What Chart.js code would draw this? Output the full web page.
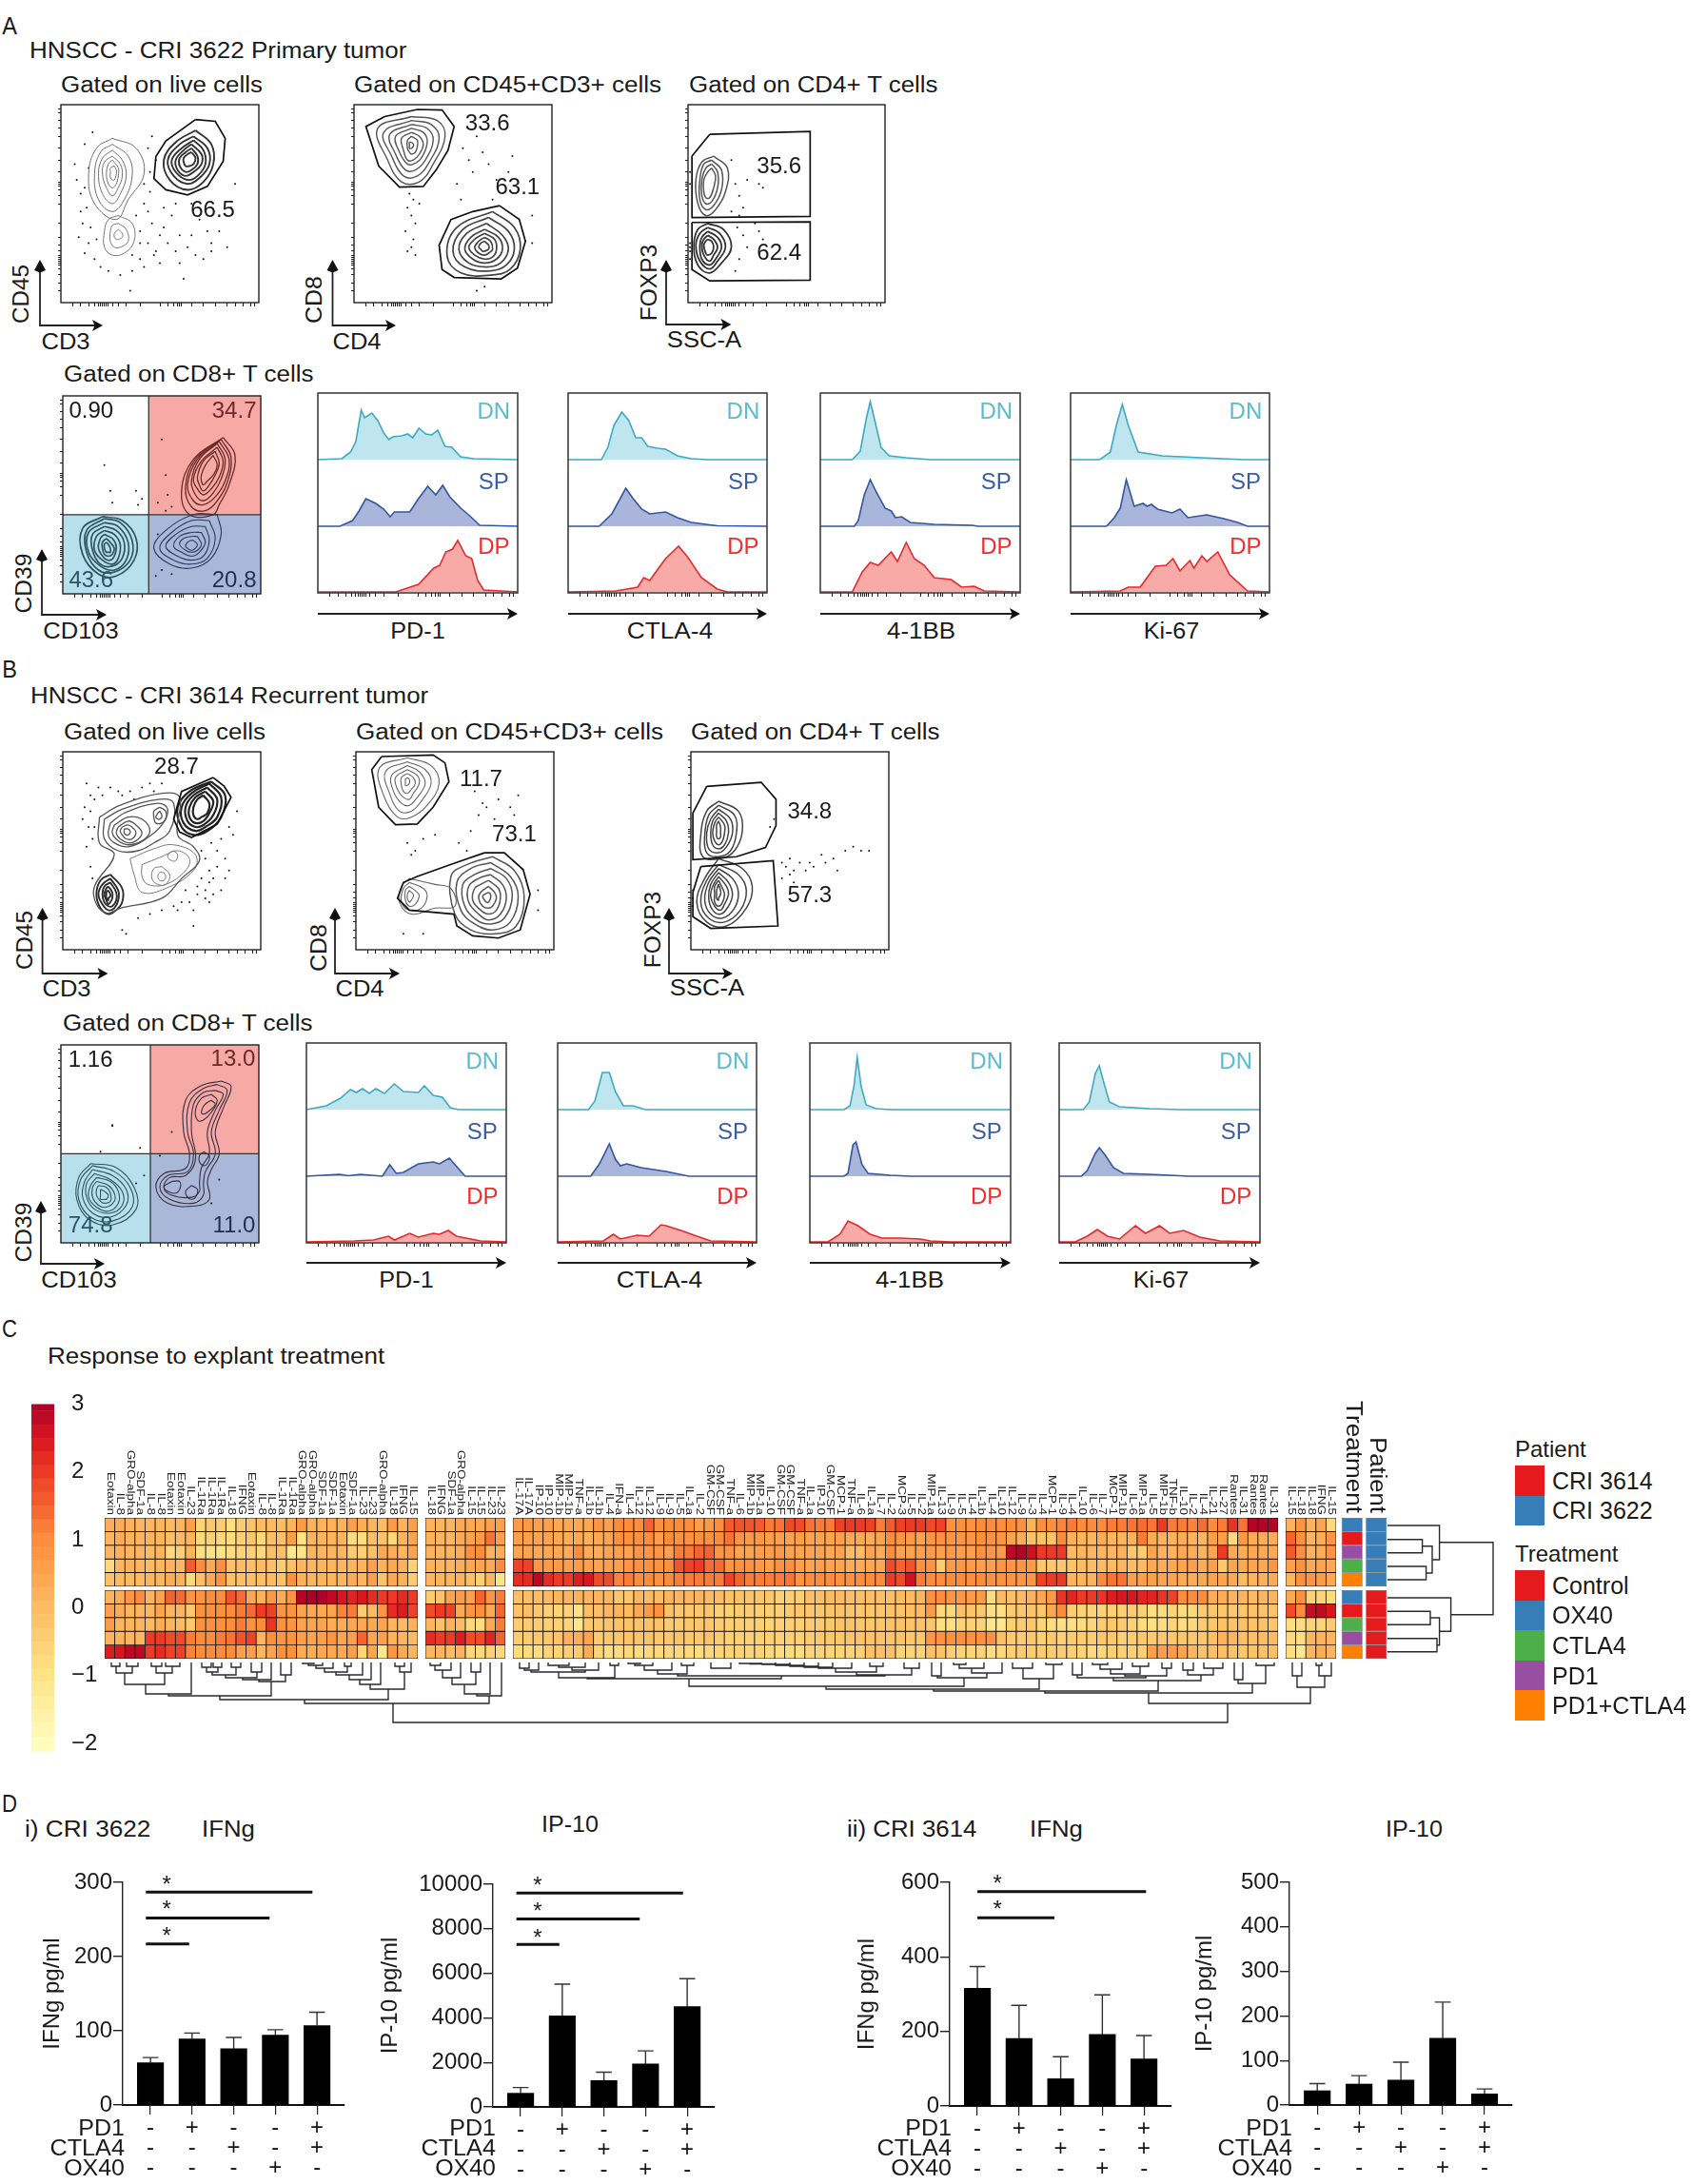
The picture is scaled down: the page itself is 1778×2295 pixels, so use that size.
<!DOCTYPE html>
<html><head><meta charset="utf-8">
<script src="https://cdn.jsdelivr.net/npm/chart.js@4"></script>
<style>html,body{margin:0;background:#fff}#p{position:relative;width:1778px;height:2295px;overflow:hidden;background:#fff}
canvas{position:absolute}.t{position:absolute;white-space:nowrap;font-family:"Liberation Sans";color:#1a1a1a;line-height:1}
svg{position:absolute;left:0;top:0}</style></head><body><div id="p"></div>
<script>
/* ---------- DATA: bar panels ---------- */
const pd1Signs=['-','+','-','-','+'], ctla4Signs=['-','-','+','-','+'], ox40Signs=['-','-','-','+','-'];
const ifngI=[57,89,76,94,107], ifngIErr=[64,97,91,101.5,125];
const ip10I=[614,4085,1186,1928,4500], ip10IErr=[870,5514,1557,2514,5757];
const ifngII=[316,181,73,192,126], ifngIIErr=[374,270,132,298,189];
const ip10II=[32,47,56,150,25], ip10IIErr=[48,66,96,231,36];
const ifngISig=[[-.11,3.89,287],[-.11,2.86,252],[-.11,.93,217]], ifngIStar=[[.39,301],[.39,267],[.39,231]];
const ip10ISig=[[-.1,3.9,9600],[-.1,2.86,8443],[-.1,.93,7300]], ip10IStar=[[.41,10070],[.41,8915],[.41,7700]];
const ifngIISig=[[0,4.05,575],[0,1.85,505]], ifngIIStar=[[.48,603],[.48,534]];
/* ---------- DATA: heatmap ---------- */
const colsB1=['Eotaxin','IL-8','GRO-alpha','SDF-1a','IL-8','IL-8','Eotaxin','Eotaxin','IL-23','IL-1Ra','IL-1Ra','IL-1Ra','IL-18','IFNG','Eotaxin','IL-8','IL-8','IL-1Ra','IL-1Ra','GRO-alpha','GRO-alpha','SDF-1a','SDF-1a','Eotaxin','SDF-1a','IL-23','IL-23','GRO-alpha','IL-18','IFNG','IL-15'];
const colsB2=['IL-18','IFNG','SDF-1a','GRO-alpha','IL-15','IL-15','IL-23','IL-23'];
const colsB3=['IL-17A','IL-17A','IP-10','IP-10','MIP-1b','MIP-1b','TNF-a','IL-1b','IL-1b','IL-4','IFN-a','IL-4','IL-12','IL-12','IL-9','IL-9','IL-5','IL-1a','IL-2','GM-CSF','GM-CSF','TNF-a','IL-6','MIP-1b','MIP-1a','IL-10','GM-CSF','GM-CSF','TNF-a','IL-1a','IP-10','GM-CSF','MCP-1','TNF-a','IL-6','IL-1a','IL-7','IL-2','MCP-3','IL-5','IL-2','MIP-1a','IL-13','IL-9','IL-5','IL-4','IL-1b','IL-4','IL-10','IL-12','IL-9','IL-3','IL-4','MCP-1','IL-9','IL-4','IL-10','IL-6','IL-7','MCP-1','MIP-1b','IL-6','MIP-1a','IL-5','MIP-1b','TNF-b','IL-10','IL-2','IL-4','IL-21','IL-27','Rantes','IL-31','Rantes','Rantes','IL-31'];
const colsB4=['IL-15','IL-18','IL-18','IFNG','IL-15'];
const heatB1=[
[.3,.3,.2,.1,.1,.1,0,.1,.6,-.6,-.3,-.4,-.9,-.4,-.2,0,0,0,.1,.7,.2,.2,.2,.2,.6,.3,.1,0,.7,.2,.6],
[.1,.3,.1,.1,.1,.1,-.1,0,.1,-.7,-.5,-.7,-.8,-.5,-.3,-.7,-.1,-.1,.6,-1,.1,.1,.1,.1,-.8,-.8,-.1,-.2,-.7,.1,.5],
[.1,.2,.1,.1,0,.1,-.7,-.5,.2,-.9,-1,-1,-.8,-.6,-.5,-.7,-.1,-.1,-1.2,-1,.1,.1,.1,.1,-.4,-.5,-.1,.4,.3,.1,.5],
[-.7,.1,.2,.1,0,.1,.2,.1,1.6,1,.4,.9,-.1,0,-.1,0,-.1,-.4,-.1,.1,.1,.1,.1,.1,.1,.2,.6,.2,.4,.2,-.5],
[-.1,0,0,0,.1,.1,.3,.2,-.7,-.1,.4,.8,-.1,-.1,-.1,-.1,0,-.2,.9,.2,.1,.1,.1,.1,.3,.1,.6,-.2,.4,.2,-.4],
[.2,.3,.8,1,.1,.5,1.5,1.4,.8,.8,1,1,1.7,1.4,.4,.2,.7,.3,.8,2.9,3,3,2.8,2.5,2.3,2.5,2.2,2,2,2.2,2],
[.6,.3,.1,.1,.1,.5,.1,.1,-.3,.9,.9,.9,1,1.2,1.4,2,1.9,.8,.8,.5,.4,.4,.5,1.1,1.2,-.4,0,.8,2.2,2.4,1.9],
[.7,.1,.1,.1,0,.3,.1,0,-.3,.9,.9,.9,1,1.2,.9,1,2.1,.9,.8,.5,.5,.5,.3,.3,.4,.4,.4,.5,.1,0,.2],
[.2,.2,.1,.1,2,2,1.8,1.8,1.2,1,1,1.2,1.3,1.7,1.9,.1,.9,.8,.8,.6,.5,.6,.8,.5,.6,1.5,.5,.6,.2,.1,0],
[2.4,2.5,2.8,2.8,2,2.2,1.9,1.9,1.1,1,1,1,1,.6,.6,.1,.5,.9,.9,.3,.3,.4,.4,.4,.6,-.6,.5,-1.1,.8,.4,.1]];
const heatB2=[[.2,.1,.1,.4,.4,.4,.6,.6],[.2,.1,.1,.4,.5,.7,1.3,.6],[.2,.1,.2,.3,.9,1,.2,.3],[.2,.1,.1,.3,.4,.5,.4,1],[.1,.1,.1,.2,-.1,-.5,.1,-1],
[-.4,-.2,.5,.7,.6,1.5,.8,1.2],[1.8,2,1.9,.4,.8,.9,.4,1.5],[.1,-.2,.2,0,-.7,-.8,.4,1.2],[2.2,2,2,2.4,1.8,1.8,2.3,1.5],[.1,.1,0,.2,-.7,-.7,-.5,-.7]];
const heatB3=[
[.7,.7,.6,.6,.4,.4,.4,.4,.8,.6,1,1,1,1.5,.9,1,1,1,.6,.7,1,1.6,1.7,1.7,1.6,1.2,1.3,1.8,1.8,1.3,1.2,1.2,1.9,2,2,1.9,1.2,1.6,1.9,2,2,1.8,1.9,.9,.9,.9,1,1,1,1,.9,.2,.9,.9,1.1,1.2,1,1,1,1.2,1.2,1.3,1.4,1.3,2,1.2,1.2,1.1,1.4,1,1.2,2.1,1.3,2.9,2.9,2.9],
[.6,.6,.5,.5,.4,.3,.4,.2,.4,.5,.9,.9,.9,1,.6,1,.9,.9,.9,.9,1,1.3,.8,.7,.7,.6,.6,.5,.6,.5,.5,.5,.6,.4,.4,.3,.5,1,.8,.7,.5,.8,.9,.8,.8,.8,.9,.9,.8,.5,.3,-.2,-.2,-.2,1,.2,.1,.1,.3,.1,.1,.2,1.2,.3,.2,.2,.3,.2,.1,.6,.6,-.7,.7,.3,.3,.3],
[.5,.5,.4,.4,.4,.3,1,.3,.3,.5,.6,.5,.8,.8,.8,.6,1.2,1.2,1.5,1.5,.8,.8,.5,.5,.6,.6,.7,.5,.5,.5,.5,.4,.5,0,0,.5,.3,1,.5,.5,.6,.7,.6,.7,.6,.6,.9,.8,.7,2.8,2.9,2.6,2,2,2,0,.1,.1,.1,.1,.2,-.3,-.4,.5,.2,.2,.4,.3,.2,.5,2,.4,.3,.4,.4,.4],
[1.9,1.9,.8,.7,.7,.6,.7,.6,.5,.6,.6,.8,.9,.9,.9,.9,1.7,1.9,2,1.4,1.4,.8,.9,.9,.7,.6,.9,.9,.6,.5,.6,.5,.5,.3,.3,.4,.4,1.8,1.5,1.7,.9,.8,-.4,.7,.7,.7,.6,.6,.8,.8,.8,.7,-.3,-.3,-.3,-.2,0,0,0,0,.1,0,0,.4,.3,.4,.5,.6,.3,.6,-.3,.5,.4,.5,.4,.8],
[2.2,2.2,2.8,2.2,2,2,2.4,2.5,1.8,1.8,1.1,1.2,1,1,.9,1,1.2,1.2,1.2,1.2,1.2,1.9,1.5,1.2,1.2,1.2,1.2,1.3,.8,1,1,1,.9,.9,1,1,1,2,1.8,2.6,1.2,1,1,1,1,1,1,.9,.9,.8,.8,.8,1.9,2,2,.1,.1,.2,1,1.3,1.3,.6,.6,.6,.5,.5,.3,.3,.4,.5,.5,.4,0,.1,.2,.3],
[-.1,-.1,0,0,.1,.1,.2,.1,.1,.1,-.3,-.3,.1,0,0,.1,.1,.1,.1,0,0,-.2,-.2,-.2,-.3,-.3,-.5,-.5,-.5,-.1,-.1,0,0,-.1,-.1,-.1,-.1,-.1,0,0,.1,.9,1,.8,.7,.7,.7,-.8,0,-.1,0,.2,.4,.7,2.1,2.3,2,2,2.1,2.4,2.5,2.5,2.3,2.3,2.1,1.9,1,1,1,.3,.3,.1,.1,0,.1,.1],
[-.2,-.1,-.3,-.5,-.6,-.6,-1,-.1,-.1,.1,.1,0,.4,.7,.9,-.2,-.3,-.3,-.3,-.3,-.5,-.5,-.4,-.4,-.5,-.5,-.5,-.4,-.3,-.3,-.3,-.2,-.2,-.2,-.3,-.3,-.3,-.2,-.2,-.1,0,.7,-.7,-.7,-.1,-.2,-.3,-.9,-.9,-.4,-.3,-.2,-.3,.4,1,-.5,-.6,-.6,-.6,-.5,-.5,-.4,-.5,-.9,-.8,-.6,-.8,-.7,-.4,-.3,-.3,-.3,-.3,-.2,-.2,-.2],
[-.4,-.4,-.4,-.5,-.5,-.6,-1.1,-.3,-.3,-.2,-.2,-.2,-.2,-.2,-.2,-.4,-.4,-.3,-.3,-.3,-.4,-.5,-.5,-.5,-.5,-.6,-.5,-.5,-.5,-.4,-.4,-.3,-.2,-.2,-.3,-.3,-.3,-.2,-.2,-.2,-.2,-.3,-.9,-.9,-.6,-.5,-.6,-1.1,-1.1,-.5,-.4,-.3,-.6,-.8,-.9,-.9,-.8,-.6,-.4,-.3,-.4,-.5,-.8,-.9,-.8,-.6,-.8,-.7,-.4,-.3,-.2,-.2,-.2,-.2,-.2,-.3],
[-.4,-.4,-.3,-.3,-.2,.2,.3,.5,-.4,-.3,-.3,-.2,-.2,-.2,-.3,-.3,-.2,-.3,-.3,-.2,-.4,-.5,-.5,-.5,-.5,-.5,-.5,-.5,-.5,-.4,-.3,-.3,-.3,-.2,-.2,-.2,-.2,-.2,-.2,-.3,-.3,.8,.9,.9,.9,.9,.9,.9,-.1,-.4,-.4,-.3,-.5,-.3,-.5,-.4,-.4,-.4,-.3,-.3,-.5,-.4,-.3,-.4,-.3,-.3,-.3,-.3,-.3,-.1,.2,.1,-.1,-.1,0,0],
[-.8,-.8,-.8,-.6,-.6,-.5,-.4,.3,-.6,-.8,-.8,-.7,-.8,-.7,-.7,-.7,-.7,-.7,-.8,-.7,-.6,-.6,-.6,-.6,-.6,-.7,-.8,-.8,-.8,-.6,-.6,-.6,-.6,-.6,-.5,-.1,-.1,-.1,-.6,-.6,-.6,-.1,-.2,-.5,-.6,-.6,-.6,-.8,-.7,-.5,-.4,-.4,-.4,-.4,-.4,-.5,-.6,-.7,-.7,-.5,-.5,-.5,-.5,.6,.6,.7,.5,.1,-.2,-.1,-.1,-.2,-.3,-.2,-.1,-.1]];
const heatB4=[[.2,.8,.2,.5,-.7],[1.5,.9,.1,.3,.8],[1.6,.9,.2,.3,.8],[.6,.9,.4,.5,.4],[.1,.9,.8,.7,.4],[.4,.9,-.5,-.6,-.8],[1.8,1,2.7,2.8,2.5],[-.9,-.8,-.6,-.6,-.4],[-.7,-.8,.1,.2,.1],[-.9,-1.2,.1,.3,.1]];
const rowEdges=[[0,1],[1,2],[2,3],[3,4],[4,5],[5.28,6.28],[6.28,7.28],[7.28,8.28],[8.28,9.28],[9.28,10.28]];
const heatStops=[[-2.12,'#ffffc4'],[-1,'#fee487'],[0,'#fdbb63'],[1,'#fd8c3c'],[2,'#ec3a26'],[2.5,'#d7161f'],[3,'#ac0028']];
const cbEdges=[-2.12,-1.9,-1.7,-1.5,-1.3,-1.1,-.9,-.7,-.5,-.3,-.1,.1,.3,.5,.7,.9,1.1,1.3,1.5,1.7,1.9,2.1,2.3,2.5,2.7,2.9,3];
const cbTicks=[3,2,1,0,-1,-2];
const treatColors={Control:'#e41a1c',OX40:'#377eb8',CTLA4:'#4daf4a',PD1:'#984ea3','PD1+CTLA4':'#ff7f00'};
const patientColors={'CRI 3614':'#e41a1c','CRI 3622':'#377eb8'};
const rowTreatment=['OX40','Control','PD1','CTLA4','PD1+CTLA4','OX40','Control','CTLA4','PD1','PD1+CTLA4'];
const rowPatient=['CRI 3622','CRI 3622','CRI 3622','CRI 3622','CRI 3622','CRI 3614','CRI 3614','CRI 3614','CRI 3614','CRI 3614'];
const colDendro=[[117,2,126,2,6],[133,2,145,2,6],[122,6,139,6,13],[159,2,170,2,6],[174,2,189,2,6],[164,6,181,6,13],[131,13,173,13,25],[153,25,201,2,35],[212,2,222,2,7],[224,2,233,2,7],[217,7,229,7,12],[243,2,253,2,7],[223,12,248,7,15],[264,2,275,2,12],[237,15,270,12,18],[295,2,306,2,15],[255,18,285,2,20],[272,20,300,15,22],[177,35,285,22,37],
[318,2,330,2,3],[324,3,339,2,5],[332,5,350,2,8],[362,2,369,2,6],[341,8,365,6,12],[353,12,381,2,15],[367,15,390,2,20],[378,20,400,2,25],[415,2,425,2,6],[420,6,432,2,12],[389,25,425,12,30],[231,37,408,30,41],
[452,2,463,2,5],[457,5,474,2,10],[465,10,484,2,18],[495,2,505,2,12],[475,18,500,12,25],[488,25,515,2,35],[501,35,527,2,37],[320,41,514,37,45],
[546,2,556,2,8],[551,8,566,2,10],[576,2,598,2,5],[587,5,615,2,7],[601,7,629,2,10],[558,10,615,10,12],[587,12,646,5,18],[641,2,650,2,5],[660,2,673,2,3],[667,3,686,2,5],[677,5,706,2,10],[716,2,729,2,5],[747,2,768,2,8],[691,10,722,5,14],[777,2,800,2,3],[788,3,815,2,3.5],[801,3.5,830,2,4],[815,4,845,2,5],[830,5,860,2,6],[845,6,875,2,7],[860,7,895,2,8],[914,2,928,2,6],[950,2,966,2,8],[878,8,921,6,12],[900,12,958,8,15],[712,14,930,15,16],[617,18,821,16,19],
[979,2,989,2,16],[1002,2,1015,2,4],[1008,4,1034,2,8],[1021,8,1053,2,13],[985,16,1037,13,18],[724,19,1013,18,27],[1064,2,1085,2,8],[1099,2,1116,2,4],[1075,8,1107,4,19],[868,27,1092,19,30],
[1127,2,1137,2,15],[1148,2,1164,2,4],[1156,4,1179,2,9],[1190,2,1207,2,6],[1167,9,1198,6,14],[1221,2,1231,2,8],[1182,14,1226,8,16],[1132,15,1204,16,18],[1243,2,1254,2,10],[1265,2,1285,2,8],[1248,10,1275,8,15],[1170,18,1262,15,21],[981,30,1217,21,32],
[1297,2,1306,2,20],[1320,2,1339,2,5],[1301,20,1330,5,24],[1098,32,1316,24,34],
[1358,2,1368,2,16],[1383,2,1389,2,5],[1386,5,1399,2,16],[1363,16,1392,16,28],[1207,34,1377,28,45],[413,45,1290,45,65]];
const rowDendro=[[22.7,0,36.7,0,36.6],[51,0,65,0,40.6],[29.7,36.6,58,40.6,47],[8,0,44,47,54.6],[98.3,0,112.3,0,45],[126.7,0,140.7,0,52],[105,45,133.7,52,54.6],[84,0,119.3,54.6,66.6],[25.7,54.6,101.7,66.6,111]];
/* ---------- DATA: histograms (flat x,height lists; one list per DN / SP / DP) ---------- */
const hAPD1=[[12,1,16.4,8,19,19,21.7,52,23.4,44,27,49,30,41,33,28,35.5,21,37.5,24,42,25,45,27,47.5,23,50.6,33,54,27,57,26,60,31,63.6,14,67,13,71.5,3,77.9,1],
[11,0,17.4,6,20.6,16,24,29,29,24,33,18,36.2,10,38.3,15,46,15,50,28,55,42,59,33,62.5,43,66,31,71.5,19,76,11,81,1],
[39,0,50.4,8,58,25,61,28,64,42,67.4,45,70,54,74,38,77,35,80,12,83,2]];
const hACTLA=[[16.7,0,20,13,23,36,27,50,30.5,41,34,23,37,23,40,14,45,12,49,11,55,4,62,1,70,0],
[15.6,0,22,13,29,40,32.7,29,37,18,41,13,49,15,55,9,62,4,75,.5],
[24,1,35,5,38,15,41,12,45.5,25,49,35,55.5,48,60,37,67,15,75,3,80,0]];
const hA41BB=[[16,0,20,9,23,43,25,61,27.5,39,30.4,13,34.5,4,43,2,55,0],
[17,0,19,6,22,33,25,49,28,36,32.4,19,35.5,16,37.6,9,40.7,10,45,4,57,2,76,1,79,0],
[16,0,21,21,25,31,29,28,35.5,42,38.6,32,43,52,47,35,52,28,57,15,65.5,13,70.7,5,77,6,82,1]];
const hAKi67=[[14.7,0,20,8,23,36,26,58,29,36,34,8,46,4,66,2,87,0],
[18,0,22,9,25,19,28,49,32,21,36.4,24,38.5,21,40.6,23,43.7,18,51,14,55,18,59,9,68.5,12,77,8,84,4,89,0],
[25,1,29,5,35,5,42.6,27,48,28,51.5,35,55,22,60,33,62,25,66,38,68.5,32,74,42,80,18,89,1]];
const hBPD1=[[10,4,17,12,22,21,25,18,28,22,31.5,17,34.7,22,39,17,44,27,48.5,19,56,18,59,25,63.4,15,68,13,72,2,76,0],
[8,1,16.6,2,21,.5,27,2,38,0,41.7,12,45,3,48.5,4,56,13,63.4,15,66.6,13,71.5,19,79.4,0],
[24,1,33.6,2,41,6,44,2,51.7,9,56,5,63.4,9,66.6,8,71,12,75,6,87,1]];
const hBCTLA=[[15.5,0,18.7,9,22.5,39,26,39,29,19,33,4,38,4,44,0],
[16.6,0,21,13,26,34,29,18,31.5,11,34.7,13,42,9,54.5,5,66,0],
[23,1,28,8,31.5,3,40,7,46,6,52,18,54.5,17,62,12,70,6,77,1]];
const hB41BB=[[17,0,20,4,22,25,23.6,55,25.5,25,28,5,33,1,40,0],
[17,0,19,3,21.5,33,23,36,26,12,29,3,40,1,50,0],
[9,0,15,8,19,22,24,17,30,8,36,4,45,4,55,3,60,1,70,0]];
const hBKi67=[[12,0,15,8,18,38,20,46,22,30,25,8,30,3,45,1,60,0],
[11,0,14,6,18,24,20,30,23,22,27,9,32,3,45,2,55,1,65,0],
[8,0,14,6,19,13,24,6,30,3,38,17,43,9,50,17,55,9,62,12,70,5,80,1]];
const histBases=[140,70,1], histNames=['DN','SP','DP'];
/* ---------- DATA: flow plots (axis percent; contour lists x,y,x,y…) ---------- */
const flowTicks=[6,10,14,17,19,20,21,22,23,24,26,29,33,40,50,54,57,59,60,61,66,72,78,84,88,92,96,98];
const a1Gate=[[68,92.5,78,91.6,83,83,82,71.4,74,58.7,64,54.4,53,57,47,62.7,48,73.8,53,81.7]];
const a1Right=[[68,87,76,80,77,70,72,61,64,57,55,62,52,72,58,81],[67,84,74,78,75,70,70,63,64,60,57,64,54,72,60,80],[67,82,72,77,73,70,69,64,64,62,58,66,56,72,61,78],[66,80,71,75,71,70,67,66,63,64,59,67,58,72,62,77],[66,78,69,74,69,70,66,67,63,66,60,69,60,73,63,76],[66,76,68,73,67,70,65,69,63,69,62,71,62,73,64,75]];
const a1Left=[[26,83,38,78,42,65,34,52,28,42,17,50,14,65,18,78],[26,80,34,74,36,64,32,52,26,46,19,52,17,65,20,76],[26,77,31,72,33,64,30,55,26,50,21,55,19,65,21,73],[26,74,30,70,31,64,29,58,26,54,23,58,21,65,22,71],[26,72,29,68,29,64,28,60,26,58,24,60,23,65,24,70],[27,69,28,67,28,65,27,62,26,62,25,63,25,66,25,68]];
const a1Low=[[29,44,36,40,37,31,32,25,26,24,22,28,22,36,24,42],[29,40,33,37,34,31,30,28,27,28,25,31,25,36,26,39],[29,37,31,35,31,33,29,32,28,32,27,33,27,35,28,36]];
const a1Dots=[8,62,10,55,7,70,13,48,11,40,9,33,14,30,12,25,17,22,20,18,38,44,42,50,45,56,40,36,44,30,48,26,52,38,56,44,60,34,64,28,70,42,76,30,80,36,84,28,72,22,60,20,50,20,42,18,36,16,30,14,24,16,12,80,16,86,44,78,48,72,46,84,88,60,86,48,66,50,58,50,52,48,14,68,62,12,35,6,10,46,15,38,18,32,12,58,40,30,46,40,50,34,54,30,58,26,66,34,74,36,68,24,76,26,44,46,42,60,45,66,36,24,40,22,47,24];
const a2GateA=[[15.5,94,32,97.6,44.5,97.3,50.6,89,47.5,77,41.5,67,35,58.7,23,58.4,12.5,69,6,89]];
const a2GateB=[[73.5,49,83.5,42,86.6,31,82.6,17.5,74.4,12,50.6,12.7,44.5,16.7,43,29,49,42,60,46]];
const a2Top=[[29,94,42,92,46,84,40,70,33,61,24,61,17,72,12,88],[29,92,39,90,43,83,38,71,32,64,25,64,19,74,15,86],[29,90,37,88,40,82,36,72,31,67,26,67,21,75,18,85],[29,88,35,86,37,81,34,73,30,70,27,70,23,76,21,84],[29,86,33,84,35,80,33,75,30,72,27,72,25,77,24,83],[29,84,32,82,32,79,31,76,29,75,28,76,27,78,27,82],[29,81,30,80,30,79,29,78,28,78,28,79,28,80,28,81]];
const a2Low=[[70,46,81,38,84,27,79,17,70,14,54,15,47,24,52,38],[68,43,78,36,81,27,77,19,69,16,56,18,50,26,55,37],[67,40,75,34,78,27,74,20,67,18,58,20,53,27,57,35],[66,37,73,33,75,27,72,22,66,20,60,22,56,27,59,33],[66,35,71,32,72,27,70,23,66,22,61,24,58,28,61,32],[66,33,69,31,70,27,68,25,66,24,63,25,61,28,63,31],[66,31,68,29,68,27,66,26,65,26,64,27,63,28,64,30]];
const a2Dots=[28,55,30,52,27,48,29,44,31,40,26,36,30,32,29,28,27,26,31,24,33,50,55,78,58,72,62,84,65,76,60,66,68,70,72,62,78,66,80,74,52,60,54,52,70,52,90,44,62,6,66,8,90,30];
const a3GateA=[[11,85,62,86.5,62,43.6,2,43,2,74]];
const a3GateB=[[2,40.5,62,40.8,62,11.4,11,11,2,16.7]];
const a3Up=[[13,74,20,68,19,56,14,47,9,44,5,50,4,62,7,71],[12,72,17,67,17,57,13,49,9,47,6,52,6,62,8,70],[12,70,15,66,15,58,12,51,9,50,7,54,7,62,9,68],[12,68,14,64,13,58,11,53,9,53,8,56,8,62,10,66]];
const a3Low=[[10,40,18,37,22,28,17,20,11,15,5,19,3,29,5,37],[10,38,16,35,19,28,15,21,11,17,6,21,4,29,6,35],[10,36,15,33,17,28,14,22,11,19,7,22,6,29,7,33],[10,34,13,32,15,28,13,24,11,21,8,24,7,29,8,32],[10,32,12,31,13,28,12,25,10,24,9,25,8,29,9,31]];
const a3Dots=[24,60,26,54,28,48,22,72,25,38,28,34,30,28,26,22,24,16,34,40,36,36,38,32,30,62,36,60,38,58,1,30,1,28,1,26,1,22,1,60,1,66,22,46,26,44];
const a4SplitX=43.4,a4SplitY=40;
const a4TR=[[81,79,87,70,84,55,79,45,76,40,64,40,60,52,66,68],[80,78,85,69,83,56,78,47,72,42,65,44,62,54,67,68],[79,77,84,68,82,57,77,49,71,45,66,47,63,55,68,68],[78,76,82,68,80,58,76,51,71,47,67,50,65,57,69,68],[78,74,81,67,79,59,75,53,71,50,68,53,66,58,70,67],[77,72,79,66,77,60,74,55,71,52,69,55,68,59,71,67],[76,70,78,65,76,60,73,57,71,55,70,57,70,60,72,65]];
const a4BR=[[78,40,80,30,75,18,65,13,54,15,46,23,52,32,66,40],[74,37,77,28,73,18,65,15,56,17,49,23,55,31,65,37],[72,34,74,27,71,19,65,17,58,19,52,24,57,30,65,34],[70,31,72,26,69,21,65,19,60,21,56,24,59,29,65,31],[68,29,70,25,68,22,65,21,62,22,59,25,61,28,65,29],[66,27,68,25,67,23,65,22,63,23,62,24,63,26,65,27]];
const a4BL=[[20,39,30,37,37,28,36,17,27,9,18,10,10,20,10,33],[21,38,29,36,35,27,34,17,26,11,18,12,12,21,12,32],[21,36,28,34,33,26,32,17,26,12,19,14,13,21,13,31],[21,34,27,32,31,26,30,18,25,14,19,15,15,22,15,30],[21,32,26,30,29,25,28,18,25,15,20,17,16,22,17,29],[21,30,25,28,27,24,26,19,24,17,21,18,18,23,19,28],[22,28,24,26,26,23,25,20,23,19,21,20,20,23,20,26],[22,26,23,25,24,23,24,21,23,21,22,21,21,23,21,25]];
const a4Dots=[21,65,24,52,25,46,37,52,40,48,38,45,50,78,52,60,48,46,52,42,55,44,53,50,50,12,55,10,47,9,48,30];
const b1Gate=[[76,87,81.5,82.6,85,77,78,63.5,65,56.7,59,59.5,56,66,60,80]];
const b1Right=[[75,85,82,78,80,67,73,60,66,58,60,62,58,72,64,80],[74,84,80,77,78,67,72,62,67,60,61,64,60,72,65,79],[73,82,78,76,76,68,71,63,67,62,63,65,62,72,66,78],[72,80,76,75,74,69,71,65,67,64,64,67,64,72,67,77],[71,78,74,74,73,69,70,67,68,66,66,68,66,72,68,76]];
const b1Mid=[[18.5,67,29,73,50,79,59,77,58,58,66,52,69,45,60,36,50,26,29,21,22.5,18.5,17,23,16,32,26,48,18.5,54],[21,66,30,71,49,76,56,74,54,60,46,54,38,50,28,50,21,56],[24,64,31,69,48,74,53,71,50,63,42,56,33,52,26,54,23,58],[26,63,33,67,40,66,44,60,40,55,33,53,28,55,25,59],[28,62,33,65,37,63,40,59,37,55,33,54,29,56,27,59],[30,62,33,63,36,61,37,59,35,56,32,56,30,58,29,60],[31,61,33,61,34,60,34,59,33,58,32,58,31,59,31,60],[49,72,52,70,52,66,50,64,47,64,46,67,46,70],[49,70,50,68,50,67,49,66,48,66,47,67,48,69]];
const b1Lower=[[34,46,46,51,56,53,67,48,66,40,52,31,40,29,36,38],[40,43,50,47,58,50,64,46,62,40,52,33,43,33,40,37],[50,42,54,38,52,33,48,33,45,36,46,41],[51,39,52,37,51,35,49,35,48,37,49,39],[56,50,58,48,57,45,55,45,53,47,54,49]];
const b1Base=[[24,38,30,31,30,24,27,20,23,18,19,21,17,28,19,35],[24,36,28,30,28,25,26,21,23,20,20,23,18,28,20,33],[24,34,27,29,27,25,25,22,23,22,21,24,20,28,21,32],[23,32,25,29,25,26,24,24,23,23,22,25,21,28,22,31],[23,30,24,28,24,27,23,26,23,25,22,26,22,28,22,29]];
const b1Dots=[12,84,14,78,11,72,16,76,10,66,13,62,15,56,12,52,20,78,24,82,30,78,34,80,40,82,44,84,50,84,72,46,74,40,76,36,72,30,68,28,62,30,60,24,56,22,50,20,44,18,38,16,70,50,78,50,82,46,86,58,84,40,80,30,74,24,66,20,84,62,88,70,14,42,15,36,32,8,30,10,66,12,75,54,80,56,74,34,78,42,70,36,64,24,58,20,68,32,82,36,72,26,76,28,16,62,14,70,18,82,28,80,36,76,46,80];
const b2GateA=[[13,97.6,39,98.4,45,94.4,47,84.9,39,72,31,63.5,20,63.2,11.5,72,8,91]];
const b2GateB=[[65,49,75,49,84.5,40.5,88,28,83,10,72,5.9,59,7,51,12,49.5,18,27,20,21,26,24,34,31,37,49.5,43.6]];
const b2Top=[[26,97,38,93,42,84,36,73,28,67,21,67,14,78,12,92],[26,95,35,91,38,84,33,75,28,70,22,70,17,79,15,90],[26,93,32,90,35,84,31,77,27,73,23,74,19,80,18,88],[26,91,31,88,32,84,29,79,27,76,24,77,21,81,20,87],[26,89,29,87,30,84,28,81,26,79,24,80,23,83,23,87],[26,87,27,86,27,84,26,83,25,83,25,84,25,85,25,86]];
const b2Low=[[69,47,80,40,85,27,81,12,70,8,58,10,50,18,48,37,56,43],[68,44,78,37,82,27,78,14,69,10,60,13,53,20,51,34,58,41],[68,41,76,36,79,27,75,16,68,13,61,15,55,22,54,33,60,38],[68,38,74,33,76,26,73,18,67,15,62,18,57,24,57,32,62,36],[67,35,72,31,73,26,71,20,67,18,63,20,59,25,60,31,63,33],[67,32,70,29,71,26,69,22,67,21,64,22,62,26,63,29],[67,29,68,28,68,26,67,24,66,24,65,25,64,27,65,28]];
const b2Tail=[[27,36,40,33,48,31,50,22,40,21,28,18,22,24,23,32],[27,34,34,31,36,27,33,21,27,20,23,24,24,31],[27,32,31,29,32,27,30,23,27,22,25,25,25,30],[27,30,29,28,29,27,28,25,27,24,26,26,26,28]];
const b2Dots=[60,80,64,74,66,72,62,68,70,66,72,76,78,72,82,78,80,68,58,60,40,58,34,56,26,54,28,48,30,50,52,54,56,50,24,8,34,8,92,20,92,30];
const b3GateA=[[8,82.5,35.5,84.6,43,76,43,62.7,37.7,51.6,23,47,1,45.5,1,69]];
const b3GateB=[[5,42,41.6,45,44,12,10,10.8,1,16.7,1,29]];
const b3Up=[[14,75,24,70,26,60,22,50,15,46,6,47,5,58,8,70],[14,73,22,68,23,59,20,50,14,47,8,49,7,58,9,68],[14,71,20,66,21,59,18,52,14,49,9,51,8,59,10,66],[14,69,18,65,19,59,17,53,14,51,11,53,10,59,11,65],[14,67,17,63,17,59,16,55,14,53,12,55,11,59,12,64],[14,65,15,62,15,59,15,57,14,56,13,57,13,60,13,63]];
const b3Low=[[14,46,26,41,31,32,28,21,18,12,8,14,3,24,7,36],[14,43,24,38,28,30,25,20,17,14,9,16,5,24,8,35],[14,41,21,36,24,29,22,21,16,16,10,18,7,25,9,34],[14,39,19,34,21,28,19,22,15,18,11,20,9,26,10,33],[14,37,18,32,19,28,17,23,15,20,12,22,10,27,11,32],[14,35,16,31,17,28,16,24,14,22,12,24,12,28,12,32],[14,33,15,30,15,28,14,26,14,25,13,26,13,28,13,30]];
const b3Dots=[46,44,48,42,50,46,52,40,55,44,58,40,60,44,62,42,66,48,68,44,72,46,74,40,78,50,82,52,86,50,90,50,50,38,46,36,52,34,1,30,1,26,1,22,40,62,42,66];
const b4SplitX=45.2,b4SplitY=45;
const b4BL=[[15,40,28,38,37,28,38,17,26,9,14,12,8,22,9,33],[16,39,27,36,35,28,36,18,26,11,15,13,9,22,10,32],[16,37,26,34,33,27,33,19,25,13,16,15,11,23,12,31],[17,35,25,32,31,26,31,19,25,15,17,17,13,23,13,30],[18,33,25,31,29,26,29,20,24,16,18,18,14,23,15,29],[18,31,24,29,27,25,27,21,23,18,19,19,16,23,16,28],[19,29,23,28,25,25,25,21,22,20,20,21,18,24,18,27],[20,27,22,26,24,24,23,22,22,22,20,22,20,24,20,26]];
const b4Trail=[[81,81.7,86,79,82,68,78,56,80,45,76,37,74,31,75,22,68,18.6,54,20,48,28,52,35,63,37.6,65,45,62,56,63,72,71,79.4],[79,80,84,77,80,67,76,56,78,45,73,36,72,30,72,24,67,20,55,22,50,28,54,34,64,36,67,45,64,56,65,71,72,78],[78,77,82,75,78,67,74,56,75,45,71,38,70,30,70,26,66,23,56,24,52,28,55,33,63,34,68,42,66,56,67,70,72,76],[76,75,79,72,76,66,72,62,69,62,68,67,71,73],[76,72,78,70,74,66,72,65,71,66,72,69,74,71],[72,46,75,44,74,40,72,39,70,41,70,44],[66,29,69,27,68,23,66,22,64,23,63,26],[56,31,52,28,57,25,60,27,60,31]];
const b4Dots=[26,59,26,59.5,56,56,40,48,20,46,76,20,38,30,42,34,50,44,80,32];

/* ---------- helpers ---------- */
const P=document.getElementById('p');
Chart.defaults.font.family='"Liberation Sans"';Chart.defaults.color='#1a1a1a';
Chart.defaults.animation=false;Chart.defaults.responsive=false;Chart.defaults.devicePixelRatio=1;
Chart.defaults.plugins.legend.display=false;Chart.defaults.plugins.tooltip.enabled=false;Chart.defaults.events=[];
function place(x0,y0,x1,y1,pad,cfg){
  pad=Object.assign({l:0,r:0,t:0,b:0},pad);
  const c=document.createElement('canvas');c.width=Math.round(x1-x0+pad.l+pad.r);c.height=Math.round(y1-y0+pad.t+pad.b);
  c.style.left=(x0-pad.l)+'px';c.style.top=(y0-pad.t)+'px';P.appendChild(c);
  const s=cfg.options.scales,right=s.y.position==='right';
  s.x.afterFit=a=>{a.height=pad.b};s.y.afterFit=a=>{a.width=right?pad.r:pad.l};
  cfg.options.layout={padding:{top:pad.t,right:right?0:pad.r,left:right?pad.l:0,bottom:0}};
  return new Chart(c,cfg);
}
const hidden=(o)=>Object.assign({display:true,ticks:{display:false},grid:{display:false},border:{display:false}},o);
const pairs=a=>{const r=[];for(let i=0;i<a.length;i+=2)r.push({x:a[i],y:a[i+1]});return r};
const closed=a=>{const r=pairs(a);r.push(r[0]);return r};
function notesPlugin(list){return{id:'notes',afterDatasetsDraw(c){const g=c.ctx;g.save();list.forEach(n=>{g.font=(n.size||24)+'px "Liberation Sans"';g.fillStyle=n.color||'#1a1a1a';g.textAlign='center';g.textBaseline='middle';g.fillText(n.text,c.scales.x.getPixelForValue(n.x),c.scales.y.getPixelForValue(n.y)+(n.dy||0))});g.restore()}}}
function framePlugin(color,w){return{id:'frame',afterDatasetsDraw(c){const a=c.chartArea,g=c.ctx;g.save();g.strokeStyle=color;g.lineWidth=w;g.strokeRect(a.left,a.top,a.right-a.left,a.bottom-a.top);g.restore()}}}
function txt(s,x,y,o={}){
  const d=document.createElement('div');d.className='t';d.textContent=s;const a=o.a||'l';
  d.style.left=x+'px';d.style.top=y+'px';d.style.fontSize=(o.size||23)+'px';if(o.color)d.style.color=o.color;P.appendChild(d);
  const tx=a==='c'?'-50%':a==='r'?'-100%':'0';
  d.style.transformOrigin=a==='c'?'center':a==='r'?'right center':'left center';
  const sc=o.w?o.w/d.offsetWidth:1;
  d.style.transform=`translate(${tx},-50%)${o.rot?` rotate(${o.rot}deg)`:''} scaleX(${sc})`;
}
const tickScale=(vals,len,color)=>({type:'linear',min:0,max:100,display:true,afterBuildTicks:s=>{s.ticks=vals.map(v=>({value:v}))},ticks:{display:false},grid:{display:true,drawOnChartArea:false,tickLength:len,color:color||'#222',lineWidth:1},border:{display:false}});

function flow(x0,y0,x1,y1,o){
  const ds=[];
  (o.fills||[]).forEach(f=>ds.push({data:pairs(f[0]),showLine:true,fill:'shape',backgroundColor:f[1],borderWidth:0,pointRadius:0,order:9}));
  (o.lines||[]).forEach(l=>ds.push({data:pairs(l[0]),showLine:true,borderColor:l[1],borderWidth:1.3,pointRadius:0,order:1}));
  ds.push({data:pairs(o.dots),showLine:false,pointRadius:1,backgroundColor:'#111',borderWidth:0,order:3});
  (o.groups||[]).forEach(g=>g[0].forEach(r=>ds.push({data:closed(r),showLine:true,tension:.4,borderColor:g[1],borderWidth:g[2],pointRadius:0,order:2})));
  (o.gates||[]).forEach(r=>ds.push({data:closed(r),showLine:true,borderColor:'#111',borderWidth:1.7,pointRadius:0,order:0}));
  return place(x0,y0,x1,y1,{l:6,b:6,t:2,r:2},{type:'scatter',data:{datasets:ds},plugins:[notesPlugin(o.notes||[]),framePlugin('#222',1.4)],
    options:{scales:{x:tickScale(flowTicks,4),y:tickScale(flowTicks,3)}}});
}
const histColors=[['#bfe6ef','#3fa9c0'],['#a9b5d9','#34569f'],['#f7aaa6','#e8282c']];
const labelColors=['#5bbcd0','#3b5da8','#ef2b2b'];
function hist(x0,y0,x1,y1,traces,title,arrowY,labelY,labelX,labelW){
  const ds=traces.map((t,i)=>{const b=histBases[i];const pts=[{x:0,y:b},...pairs(t).map(p=>({x:p.x,y:b+p.y})),{x:100,y:b}];
    return{data:pts,showLine:true,pointRadius:0,borderColor:histColors[i][1],borderWidth:1.6,fill:{value:b},backgroundColor:histColors[i][0]}});
  const notes=histNames.map((n,i)=>({text:n,x:88,y:histBases[i]+[50,46,47][i],size:24,color:labelColors[i]}));
  place(x0,y0,x1,y1,{l:2,b:6,t:2,r:2},{type:'scatter',data:{datasets:ds},plugins:[notesPlugin(notes),framePlugin('#333',1.5)],
    options:{scales:{x:tickScale(flowTicks,4),y:hidden({type:'linear',min:0,max:210})}}});
  hArrows.push([x0,x1,arrowY]);
  txt(title,labelX,labelY,{a:'c',size:23,w:labelW});
}
const cellColor=v=>{const S=heatStops;let i=1;while(i<S.length-1&&v>S[i][0])i++;const [a,ca]=S[i-1],[b,cb]=S[i];const t=Math.max(0,Math.min(1,(v-a)/(b-a)));
  const h=(c,k)=>parseInt(c.substr(1+k*2,2),16);return `rgb(${[0,1,2].map(k=>Math.round(h(ca,k)+(h(cb,k)-h(ca,k))*t)).join(',')})`};
function vLabels(labels){return{id:'vlabels',afterDatasetsDraw(c){const g=c.ctx,s=c.scales.x;g.save();g.fillStyle='#222';g.font='10px "Liberation Sans"';g.textAlign='right';g.textBaseline='middle';
  labels.forEach((l,i)=>{g.save();g.translate(s.getPixelForValue(i),c.chartArea.top-3);g.rotate(Math.PI/2);g.scale(1.35,1);g.fillText(l,0,0);g.restore()});g.restore()}}}
function heat(x0,x1,labels,colorRows,plugins,bp,bw){
  const ds=colorRows.map((cols,r)=>({data:labels.map(()=>rowEdges[r]),backgroundColor:cols,borderColor:'rgba(15,10,5,.95)',borderWidth:bw,borderSkipped:false,grouped:false,barPercentage:bp,categoryPercentage:1}));
  place(x0,1595,x1,1743,{t:80},{type:'bar',data:{labels,datasets:ds},plugins,
    options:{scales:{x:hidden({type:'category',offset:true}),y:hidden({type:'linear',min:0,max:10.28,reverse:true})}}});
}
function dendro(x0,y0,x1,y1,xr,yr,pts){
  place(x0,y0,x1,y1,{},{type:'scatter',data:{datasets:[{data:pts,showLine:true,spanGaps:false,pointRadius:0,borderColor:'#2a2a2a',borderWidth:1.4}]},
    options:{scales:{x:hidden({type:'linear',min:xr[0],max:xr[1]}),y:hidden({type:'linear',min:yr[0],max:yr[1],reverse:true})}}});
}
function barPanel(x0,x1,yTop,yBot,canvasLeftPad,yMax,yStep,vals,errs,sig,stars,title){
  const line=[],err=[];
  vals.forEach((v,i)=>{err.push({x:i,y:v},{x:i,y:errs[i]},{x:i,y:NaN},{x:i-.19,y:errs[i]},{x:i+.19,y:errs[i]},{x:i,y:NaN})});
  sig.forEach(s=>line.push({x:s[0],y:s[2]},{x:s[1],y:s[2]},{x:s[1],y:NaN}));
  const yTicks=[];for(let v=0;v<=yMax;v+=yStep)yTicks.push(v);
  const notes=stars.map(s=>({text:'*',x:s[0],y:s[1],size:24,dy:4}));
  place(x0,yTop,x1,yBot,{l:canvasLeftPad,r:6,t:20,b:78},{data:{datasets:[
    {type:'bar',data:vals.map((v,i)=>({x:i,y:v})),backgroundColor:'#000',barThickness:27.5,order:2},
    {type:'line',data:err,borderColor:'#333',borderWidth:1.4,pointRadius:0,spanGaps:false,order:3},
    {type:'line',data:line,borderColor:'#111',borderWidth:3,pointRadius:0,spanGaps:false,order:1}]},
    plugins:[notesPlugin(notes)],
    options:{scales:{
      x:{type:'linear',offset:false,min:-.665,max:4.66,afterBuildTicks:s=>{s.ticks=[0,1,2,3,4].map(v=>({value:v}))},
        ticks:{autoSkip:false,maxRotation:0,padding:4,font:{size:24,lineHeight:.875},color:'#111',callback:v=>[pd1Signs[v],ctla4Signs[v],ox40Signs[v]]},
        grid:{display:true,offset:false,drawOnChartArea:false,tickLength:10,color:'#222',lineWidth:1.2},border:{display:true,color:'#111',width:2}},
      y:{type:'linear',min:0,max:yMax,afterBuildTicks:s=>{s.ticks=yTicks.map(v=>({value:v}))},
        ticks:{padding:1,font:{size:24},color:'#1a1a1a',autoSkip:false,callback:v=>String(v)},
        grid:{display:true,drawOnChartArea:false,tickLength:10,color:'#222',lineWidth:1.4},border:{display:true,color:'#222',width:1.4},
        title:{display:true,text:title,font:{size:24},color:'#1a1a1a',padding:0}}}}});
}
/* ---------- arrows (layout only) ---------- */
const lArrows=[[42,273,342,108],[349.5,273,342,416],[700,273,341,768.5],[44,577,646,112],[44.6,954,1023,113.5],[352,954,1023,420],[703,954,1023,770],[43,1262,1328,110]];
const hArrows=[];
/* ---------- panel A ---------- */
txt('A',10,27,{a:'c',size:25,w:16});
txt('HNSCC - CRI 3622 Primary tumor',30.6,53,{size:24,w:396});
txt('Gated on live cells',64,89,{w:212});txt('Gated on CD45+CD3+ cells',372,89,{w:323});txt('Gated on CD4+ T cells',724,89,{w:261});
flow(64,108,274,318,{gates:a1Gate,groups:[[a1Left,'#6f6f6f',1],[a1Low,'#777',1],[a1Right,'#333',1.9]],dots:a1Dots,notes:[{text:'66.5',x:76.7,y:46.5}]});
flow(372,108,582,318,{gates:[...a2GateA,...a2GateB],groups:[[a2Top,'#555',1.4],[a2Low,'#444',1.7]],dots:a2Dots,notes:[{text:'33.6',x:67.4,y:90},{text:'63.1',x:82.6,y:58}]});
flow(723,108,932,318,{gates:[...a3GateA,...a3GateB],groups:[[a3Up,'#555',1.5],[a3Low,'#333',1.8]],dots:a3Dots,notes:[{text:'35.6',x:46.2,y:68.7},{text:'62.4',x:46.2,y:25}]});
txt('Gated on CD8+ T cells',67,393,{w:262});
flow(66,414,276,624,{fills:[[[0,0,a4SplitX,0,a4SplitX,a4SplitY,0,a4SplitY],'#b7e0ec'],[[a4SplitX,0,100,0,100,a4SplitY,a4SplitX,a4SplitY],'#a9b8d8'],[[a4SplitX,a4SplitY,100,a4SplitY,100,100,a4SplitX,100],'#f7a9a5']],
  lines:[[[a4SplitX,0,a4SplitX,100],'#333'],[[0,a4SplitY,100,a4SplitY],'#333']],groups:[[a4TR,'#6b2a28',1.3],[a4BR,'#2a3a60',1.1],[a4BL,'#2f5560',1.7]],dots:a4Dots,
  notes:[{text:'0.90',x:14.3,y:92},{text:'34.7',x:86.6,y:92.2,color:'#6b2a2a'},{text:'43.6',x:14.3,y:6.5,color:'#2a5566'},{text:'20.8',x:86.6,y:6.5,color:'#1f2f55'}]});
hist(334,413,544,623,hAPD1,'PD-1',645,663,439,57);
hist(597,413,806,623,hACTLA,'CTLA-4',645,663,704,90);
hist(862,413,1072,623,hA41BB,'4-1BB',645,663,968,72);
hist(1125,413,1334,623,hAKi67,'Ki-67',645,663,1231,59);
txt('CD45',22,309,{a:'c',rot:-90,w:62});txt('CD3',69,359,{a:'c',w:51});txt('CD8',330,315,{a:'c',rot:-90,w:50});txt('CD4',375,359,{a:'c',w:51});
txt('FOXP3',682,297,{a:'c',rot:-90,w:80});txt('SSC-A',740,357,{a:'c',w:78});txt('CD39',24.5,613,{a:'c',rot:-90,w:63});txt('CD103',85,663,{a:'c',w:80});
/* ---------- panel B ---------- */
txt('B',10,703,{a:'c',size:25,w:16});
txt('HNSCC - CRI 3614 Recurrent tumor',32,731,{size:24,w:418});
txt('Gated on live cells',67,769,{w:212});txt('Gated on CD45+CD3+ cells',374,769,{w:323});txt('Gated on CD4+ T cells',726,769,{w:261});
flow(66,788,276,998,{gates:b1Gate,groups:[[b1Mid,'#555',1.3],[b1Lower,'#777',1],[b1Base,'#2c2c2c',1.9],[b1Right,'#222',2.2]],dots:b1Dots,notes:[{text:'28.7',x:57.4,y:92}]});
flow(374,788,584,998,{gates:[...b2GateA,...b2GateB],groups:[[b2Top,'#666',1.1],[b2Low,'#555',1.5],[b2Tail,'#666',1.1]],dots:b2Dots,notes:[{text:'11.7',x:63.2,y:86},{text:'73.1',x:80,y:58}]});
flow(726,788,936,998,{gates:[...b3GateA,...b3GateB],groups:[[b3Up,'#444',1.5],[b3Low,'#444',1.5]],dots:b3Dots,notes:[{text:'34.8',x:60,y:69.4},{text:'57.3',x:60,y:27}]});
txt('Gated on CD8+ T cells',66,1075,{w:262});
flow(64,1096,274,1306,{fills:[[[0,0,b4SplitX,0,b4SplitX,b4SplitY,0,b4SplitY],'#b7e0ec'],[[b4SplitX,0,100,0,100,b4SplitY,b4SplitX,b4SplitY],'#a9b8d8'],[[b4SplitX,b4SplitY,100,b4SplitY,100,100,b4SplitX,100],'#f7a9a5']],
  lines:[[[b4SplitX,0,b4SplitX,100],'#333'],[[0,b4SplitY,100,b4SplitY],'#333']],groups:[[b4BL,'#2f5560',1.1],[b4Trail,'#3a3040',1.1]],dots:b4Dots,
  notes:[{text:'1.16',x:15,y:92},{text:'13.0',x:87,y:92.4,color:'#6b2a2a'},{text:'74.8',x:15,y:8.3,color:'#2a5566'},{text:'11.0',x:87.5,y:8.3,color:'#1f2f55'}]});
hist(322,1096,532,1306,hBPD1,'PD-1',1327,1345,427,57);
hist(586,1096,795,1306,hBCTLA,'CTLA-4',1327,1345,693,90);
hist(851,1096,1062,1306,hB41BB,'4-1BB',1327,1345,956,72);
hist(1113,1096,1324,1306,hBKi67,'Ki-67',1327,1345,1220,59);
txt('CD45',25.5,988,{a:'c',rot:-90,w:62});txt('CD3',70,1039,{a:'c',w:51});txt('CD8',335,996,{a:'c',rot:-90,w:50});txt('CD4',377.5,1039,{a:'c',w:51});
txt('FOXP3',685.6,977,{a:'c',rot:-90,w:80});txt('SSC-A',743,1038,{a:'c',w:78});txt('CD39',24.5,1295,{a:'c',rot:-90,w:63});txt('CD103',82.6,1345,{a:'c',w:80});
/* ---------- panel C ---------- */
txt('C',10,1396,{a:'c',size:25,w:16});
txt('Response to explant treatment',50,1425,{w:354});
const cbBands=cbEdges.slice(1).map((e,i)=>[cbEdges[i],e]);
place(32.5,1475,56.6,1841,{r:50,t:24,b:24},{type:'bar',data:{labels:['scale'],datasets:cbBands.map(b=>({data:[b],backgroundColor:cellColor((b[0]+b[1])/2),borderWidth:0,grouped:false,barPercentage:1,categoryPercentage:1}))},
  options:{scales:{x:hidden({type:'category',offset:true}),y:{position:'right',type:'linear',min:-2.12,max:3,afterBuildTicks:s=>{s.ticks=cbTicks.map(v=>({value:v}))},
    ticks:{padding:10,font:{size:24},color:'#1a1a1a',callback:v=>String(v).replace('-','\u2212')},grid:{display:false},border:{display:false}}}}});
const toColors=m=>m.map(r=>r.map(cellColor));
heat(110,438.6,colsB1,toColors(heatB1),[vLabels(colsB1)],1,.8);
heat(446.6,531,colsB2,toColors(heatB2),[vLabels(colsB2)],1,.8);
heat(539,1343,colsB3,toColors(heatB3),[vLabels(colsB3)],1,.8);
heat(1351,1404,colsB4,toColors(heatB4),[vLabels(colsB4)],1,.8);
heat(1408,1459,['Treatment','Patient'],rowTreatment.map((t,i)=>[treatColors[t],patientColors[rowPatient[i]]]),[],.86,.5);
txt('Treatment',1421.7,1531,{a:'c',rot:90,size:23,w:118});txt('Patient',1447,1550,{a:'c',rot:90,size:23,w:80});
const colPts=[];colDendro.forEach(u=>colPts.push({x:u[0],y:u[1]},{x:u[0],y:u[4]},{x:u[2],y:u[4]},{x:u[2],y:u[3]},{x:u[2],y:NaN}));
dendro(110,1745,1410,1815,[110,1410],[0,70],colPts);
const rowPts=[];rowDendro.forEach(u=>rowPts.push({x:u[1],y:u[0]},{x:u[4],y:u[0]},{x:u[4],y:u[2]},{x:u[3],y:u[2]},{x:u[3],y:NaN}));
dendro(1458,1595,1572,1743,[0,114],[0,148],rowPts);
function legend(title,titleY,colors,top){
  txt(title,1592,titleY,{size:24});
  Object.keys(colors).forEach((k,i)=>{const d=document.createElement('div');d.style.cssText=`position:absolute;left:1592px;width:31px;height:31.6px;top:${top+i*31.6}px;background:${colors[k]}`;P.appendChild(d);
    txt(k,1631,top+i*31.6+15.8,{size:25})});
}
legend('Patient',1523,patientColors,1540);legend('Treatment',1633,treatColors,1650);
/* ---------- panel D ---------- */
txt('D',10,1895,{a:'c',size:25,w:16});
txt('i) CRI 3622',26,1922,{w:132});txt('IFNg',240,1922,{a:'c',w:56});txt('IP-10',599,1917,{a:'c',w:60});
txt('ii) CRI 3614',889.6,1922,{w:136});txt('IFNg',1110,1922,{a:'c',w:56});txt('IP-10',1486,1922,{a:'c',w:60});
barPanel(128.6,362,1978,2211.7,88,300,100,ifngI,ifngIErr,ifngISig,ifngIStar,'IFNg pg/ml');
barPanel(517.8,751,1980,2213.7,122,10000,2000,ip10I,ip10IErr,ip10ISig,ip10IStar,'IP-10 pg/ml');
barPanel(997.8,1231,1978,2212.7,101,600,200,ifngII,ifngIIErr,ifngIISig,ifngIIStar,'IFNg pg/ml');
barPanel(1355,1588.5,1977.7,2211.7,103,500,100,ip10II,ip10IIErr,[],[],'IP-10 pg/ml');
[[131,2236,2257,2278],[521,2236,2257,2278],[1000,2236,2257,2278],[1357.5,2236,2257,2278]].forEach(r=>{
  txt('PD1',r[0],r[1],{a:'r',w:49});txt('CTLA4',r[0],r[2],{a:'r',w:79});txt('OX40',r[0],r[3],{a:'r',w:64});});
/* ---------- arrows overlay ---------- */
const head=(x,y,dx,dy)=>dx?`M${x} ${y}l${-11*dx} -6l2.5 6l-2.5 6z`:`M${x} ${y}l-6 ${-11*dy}l6 2.5l6 -2.5z`;
let path='',heads='';
lArrows.forEach(a=>{path+=`M${a[0]} ${a[1]+8}V${a[2]}H${a[3]-8}`;heads+=head(a[3],a[2],1,0)+head(a[0],a[1],0,-1)});
hArrows.forEach(a=>{path+=`M${a[0]} ${a[2]}H${a[1]-8}`;heads+=head(a[1],a[2],1,0)});
const svg=document.createElementNS('http://www.w3.org/2000/svg','svg');svg.setAttribute('width',1778);svg.setAttribute('height',2295);
svg.innerHTML=`<path d="${path}" fill="none" stroke="#222" stroke-width="1.8"/><path d="${heads}" fill="#111"/>`;P.appendChild(svg);
</script></body></html>
